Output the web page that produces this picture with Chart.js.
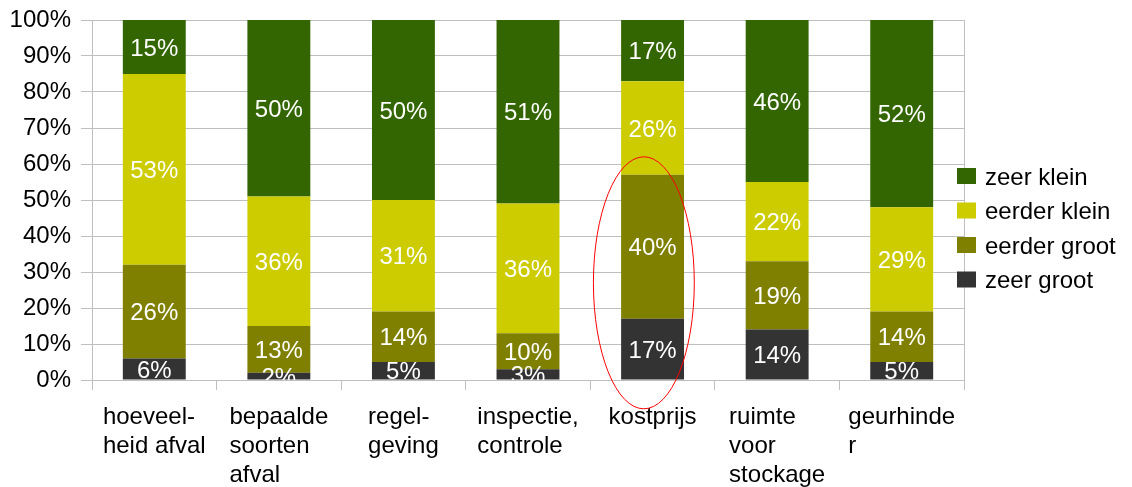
<!DOCTYPE html>
<html>
<head>
<meta charset="utf-8">
<script src="https://cdn.jsdelivr.net/npm/chart.js@4/dist/chart.umd.min.js"></script>
<style>
  html, body { margin: 0; padding: 0; background: #fff; }
</style>
</head>
<body>
<canvas id="hinder" width="1132" height="487"></canvas>
<script>
// categories, one array of lines per bar
const categories = [
    ['hoeveel-', 'heid afval'],
    ['bepaalde', 'soorten', 'afval'],
    ['regel-', 'geving'],
    ['inspectie,', 'controle'],
    ['kostprijs'],
    ['ruimte', 'voor', 'stockage'],
    ['geurhinde', 'r']
];
// shares per answer, in %
const zeerGroot   = [6, 2, 5, 3, 17, 14, 5];
const eerderGroot = [26, 13, 14, 10, 40, 19, 14];
const eerderKlein = [53, 36, 31, 36, 26, 22, 29];
const zeerKlein   = [15, 50, 50, 51, 17, 46, 52];
// the circled bar (category index, y range in %)
const highlight = { index: 4, shift: -0.07, halfWidth: 0.405, yMin: -8, yMax: 62 };

const gridColor = '#bfbfbf';
const fontFamily = '"Liberation Sans", Arial, sans-serif';
const fontSize = 24;

Chart.defaults.font.family = fontFamily;
Chart.defaults.font.size = fontSize;
Chart.defaults.color = '#000';

/*
*   White value labels centred in the visible part of each segment
*/
const segmentLabels = {
    id: 'segmentLabels',
    afterDatasetsDraw(chart) {
        const { ctx, chartArea } = chart;
        ctx.save();
        ctx.beginPath();
        ctx.rect(chartArea.left, chartArea.top, chartArea.right - chartArea.left, chartArea.bottom - chartArea.top);
        ctx.clip();
        ctx.font = fontSize + 'px ' + fontFamily;
        ctx.fillStyle = '#fff';
        ctx.textAlign = 'center';
        ctx.textBaseline = 'middle';
        chart.data.datasets.forEach((ds, di) => {
            chart.getDatasetMeta(di).data.forEach((bar, i) => {
                const p = bar.getProps(['x', 'y', 'base'], true);
                const top = Math.max(p.y, chartArea.top);
                ctx.fillText(ds.data[i] + '%', p.x, (top + p.base) / 2 + 2);
            });
        });
        ctx.restore();
    }
};

/*
*   Category labels: block centred under the bar, lines left aligned
*/
const categoryLabels = {
    id: 'categoryLabels',
    afterDraw(chart) {
        const { ctx, chartArea } = chart;
        const xScale = chart.scales.x;
        ctx.save();
        ctx.font = fontSize + 'px ' + fontFamily;
        ctx.fillStyle = '#000';
        ctx.textAlign = 'left';
        ctx.textBaseline = 'alphabetic';
        categories.forEach((lines, i) => {
            const x = xScale.getPixelForTick(i);
            const w = Math.max(...lines.map(l => ctx.measureText(l).width));
            lines.forEach((line, j) => {
                ctx.fillText(line, x - w / 2, chartArea.bottom + 44 + j * 29);
            });
        });
        ctx.restore();
    }
};

/*
*   Legend on the right, top series first
*/
const sideLegend = {
    id: 'sideLegend',
    afterDraw(chart) {
        const { ctx, chartArea } = chart;
        const left = chartArea.right - 7;
        ctx.save();
        ctx.font = fontSize + 'px ' + fontFamily;
        ctx.textAlign = 'left';
        ctx.textBaseline = 'middle';
        chart.data.datasets.slice().reverse().forEach((ds, i) => {
            const top = 168 + i * 34.5;
            ctx.fillStyle = ds.backgroundColor;
            ctx.fillRect(left, top, 19, 16);
            ctx.fillStyle = '#000';
            ctx.fillText(ds.label, left + 28, top + 10);
        });
        ctx.restore();
    }
};

/*
*   Red ellipse round the highlighted bar
*/
const highlightRing = {
    id: 'highlightRing',
    afterDraw(chart) {
        const { ctx } = chart;
        const xs = chart.scales.x, ys = chart.scales.y;
        const c = highlight.index + highlight.shift;
        const cx = xs.getPixelForValue(c);
        const rx = xs.getPixelForValue(c + highlight.halfWidth) - cx;
        const top = ys.getPixelForValue(highlight.yMax);
        const bottom = ys.getPixelForValue(highlight.yMin);
        ctx.save();
        ctx.strokeStyle = '#ff0000';
        ctx.lineWidth = 1;
        ctx.beginPath();
        ctx.ellipse(cx, (top + bottom) / 2, rx, (bottom - top) / 2, 0, 0, Math.PI * 2);
        ctx.stroke();
        ctx.restore();
    }
};

const datasets = [
    { label: 'zeer groot', data: zeerGroot, backgroundColor: '#333333' },
    { label: 'eerder groot', data: eerderGroot, backgroundColor: '#808000' },
    { label: 'eerder klein', data: eerderKlein, backgroundColor: '#cccc00' },
    { label: 'zeer klein', data: zeerKlein, backgroundColor: '#336600' }
].map(ds => Object.assign(ds, {
    borderWidth: 0,
    barPercentage: 0.505,
    categoryPercentage: 1,
    clip: 0
}));

let ctx = document.getElementById('hinder').getContext('2d');
let chart = new Chart(ctx, {
    type: 'bar',
    data: {
        labels: categories,
        datasets: datasets
    },
    options: {
        responsive: false,
        animation: false,
        layout: { padding: { top: 20, right: 168, left: 0, bottom: 0 } },
        plugins: {
            legend: { display: false },
            tooltip: { enabled: false }
        },
        scales: {
            x: {
                stacked: true,
                offset: true,
                grid: {
                    offset: true,
                    // only the right-hand frame line runs through the plot
                    color: c => c.index === undefined ? gridColor : 'transparent',
                    tickColor: gridColor,
                    tickLength: 10
                },
                border: { color: gridColor },
                ticks: { color: 'transparent', autoSkip: false, maxRotation: 0, minRotation: 0 },
                afterFit(scale) { scale.height = 107; }
            },
            y: {
                stacked: true,
                min: 0,
                max: 100,
                ticks: {
                    stepSize: 10,
                    padding: 10,
                    callback: v => v + '%'
                },
                grid: { color: gridColor, tickLength: 11 },
                border: { color: gridColor },
                afterFit(scale) {
                    scale.width = 92;
                    scale.paddingTop = 0;
                }
            }
        }
    },
    plugins: [segmentLabels, categoryLabels, sideLegend, highlightRing]
});
</script>
</body>
</html>
